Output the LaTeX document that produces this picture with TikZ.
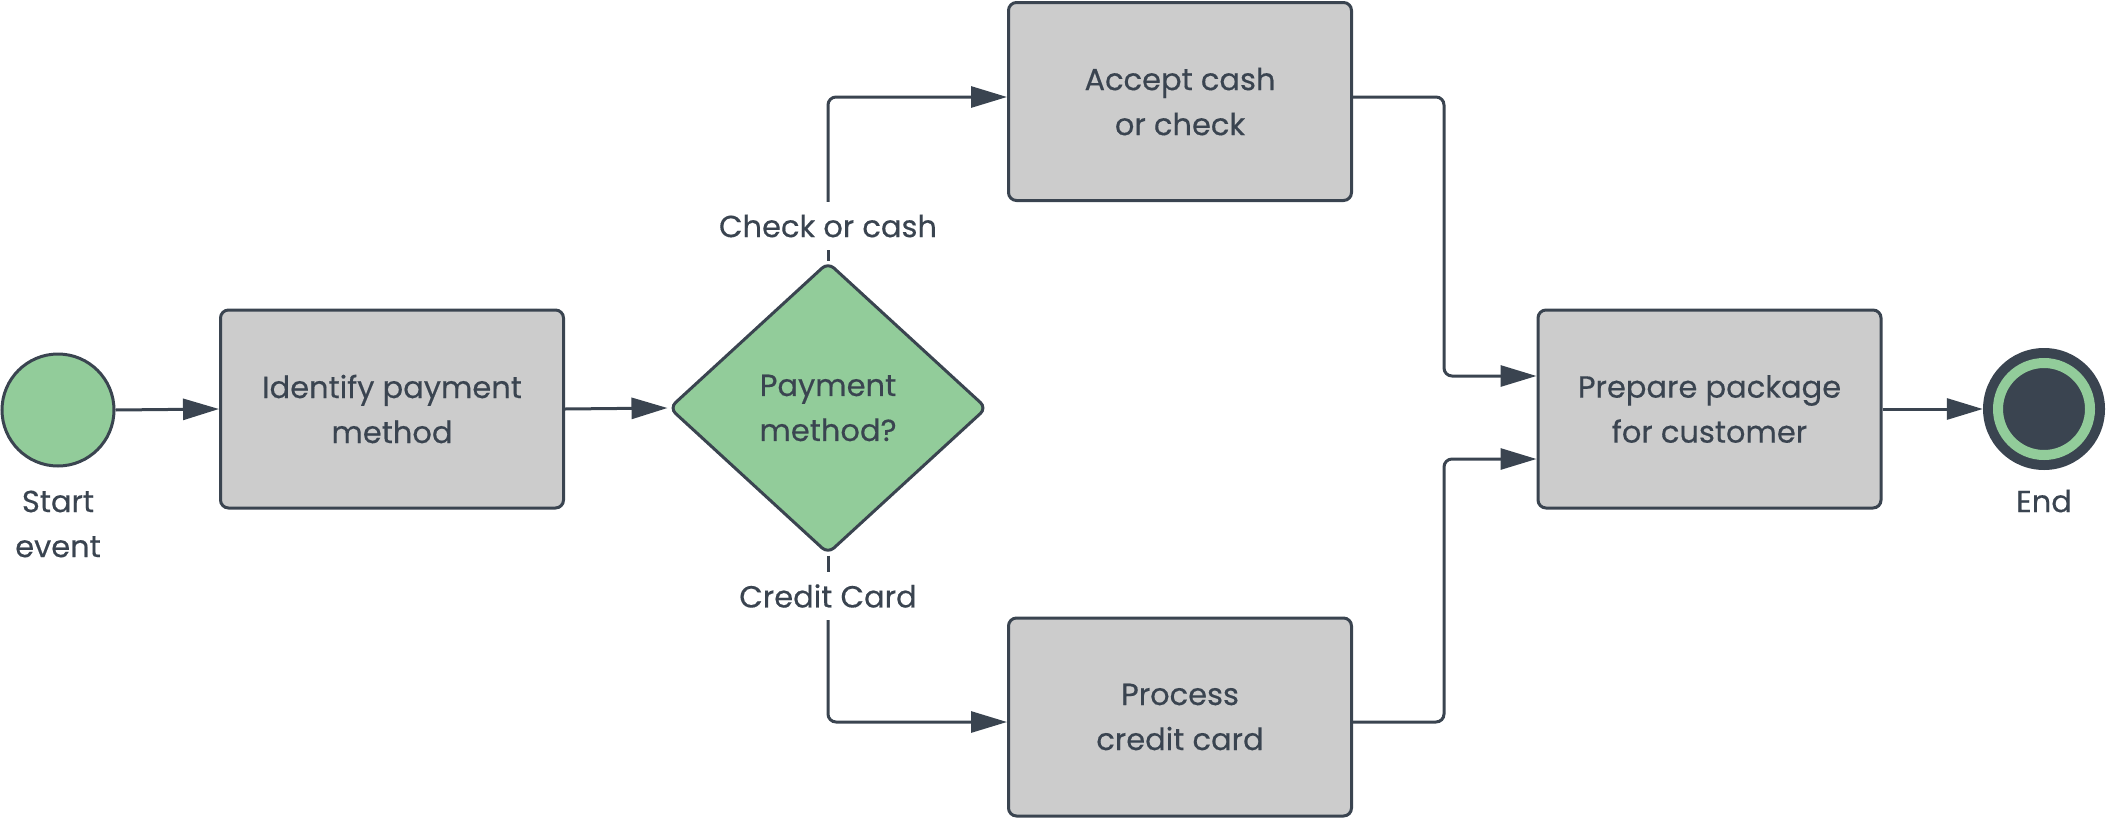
\documentclass[tikz,border=0pt]{standalone}
\usepackage{fontspec}
\setmainfont{Poppins}[FakeBold=0.4]
\usetikzlibrary{shapes.geometric,arrows.meta,calc}
\definecolor{ink}{HTML}{3A4450}
\definecolor{leaf}{HTML}{92CC9A}
\definecolor{boxgray}{HTML}{CCCCCC}
\begin{document}
\begin{tikzpicture}[x=1pt,y=-1pt,
  every node/.style={text=ink, font=\fontsize{30.5}{45}\selectfont, align=center},
  task/.style={rectangle, rounded corners=8pt, draw=ink, line width=3pt, fill=boxgray, inner sep=0pt, minimum width=343pt, minimum height=198pt},
  gate/.style={diamond, rounded corners=8pt, draw=ink, line width=3pt, fill=leaf, inner sep=0pt},
  conn/.style={draw=ink, line width=3pt, rounded corners=8pt, -{Triangle[length=36pt,width=21pt]}},
  plain/.style={draw=ink, line width=3pt, rounded corners=8pt},
  lbl/.style={inner sep=0pt, minimum height=48pt}
]
\useasboundingbox (0,0) rectangle (2106,819);

\node[circle, draw=ink, line width=3pt, fill=leaf, minimum size=112pt, inner sep=0pt] (start) at (58,410) {};
\node[inner sep=0pt] (startlbl) at (58,524) {Start\\event};

\node[task] (ident) at (392,409) {Identify payment\\method};
\node[gate, minimum width=318pt, minimum height=292pt] (dec) at (828,408) {Payment\\method?};
\node[task] (acc) at (1180,101.5) {Accept cash\\or check};
\node[task] (proc) at (1180,717) {Process\\credit card};
\node[task] (prep) at (1709.5,409) {Prepare package\\for customer};

\node[circle, fill=ink, minimum size=122pt, inner sep=0pt] (end) at (2044,409) {};
\draw[leaf, line width=10pt] (end.center) circle (46);
\node[inner sep=0pt] (endlbl) at (2044,501) {End};

\node[lbl] (lc) at (828,226) {Check or cash};
\node[lbl] (lcc) at (828,596) {Credit Card};

\draw[conn] (start.east) -- (ident.west);
\draw[conn] (ident.east) -- (dec.west);
\draw[plain] (dec.north) -- (lc.south);
\draw[conn] (lc.north) |- ([yshift=4.5pt]acc.west);
\draw[plain] (dec.south) -- (lcc.north);
\draw[conn] (lcc.south) |- ([yshift=-5pt]proc.west);
\draw[conn] ([yshift=4.5pt]acc.east) -- ++(91,0) |- ([yshift=33pt]prep.west);
\draw[conn] ([yshift=-5pt]proc.east) -- ++(91,0) |- ([yshift=-50pt]prep.west);
\draw[conn] (prep.east) -- (end.west);
\end{tikzpicture}
\end{document}
